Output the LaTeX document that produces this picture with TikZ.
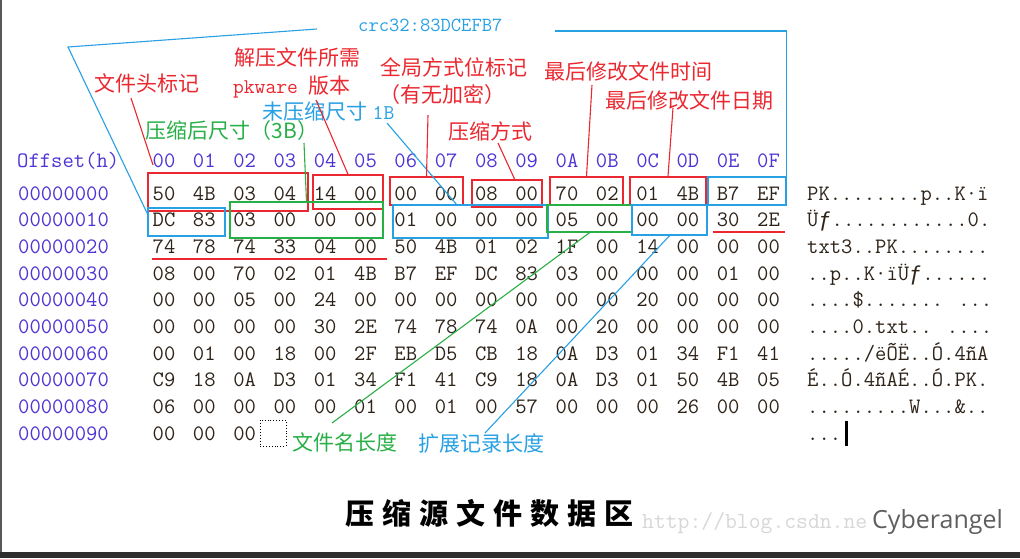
\documentclass[tikz,border=0pt]{standalone}
\usepackage{fontspec}
\usetikzlibrary{fit}
\newfontfamily\cjk{Noto Sans CJK SC}
\newfontfamily\libmono{Liberation Mono}
\newfontfamily\opensans{Open Sans}
\definecolor{myred}{RGB}{235,40,48}
\definecolor{myblue}{RGB}{40,160,228}
\definecolor{mygreen}{RGB}{40,175,70}
\definecolor{offc}{RGB}{78,52,212}
\definecolor{hexc}{RGB}{45,35,25}
\definecolor{wm}{RGB}{215,215,215}
\definecolor{cyb}{RGB}{95,95,95}
\definecolor{band}{RGB}{46,46,46}
\newcommand{\monofnt}[1]{\ttfamily\fontsize{#1}{#1}\selectfont\addfontfeature{FakeBold=1.2}}
\begin{document}
\begin{tikzpicture}[x=1pt,y=-1pt,
  lbl/.style={inner sep=0pt, font=\cjk\fontsize{21}{21}\selectfont},
  mono/.style={inner sep=0pt, font=\monofnt{22}},
  hexb/.style={mono, anchor=base, text=hexc},
  colh/.style={mono, anchor=base, text=offc},
  offl/.style={inner sep=0pt, anchor=base west, font=\monofnt{22}\addfontfeature{LetterSpace=8}, text=offc},
  ascl/.style={offl, text=hexc},
  box/.style={draw, inner sep=0pt, line width=1.4pt},
  conn/.style={line width=1.1pt},
]
\fill[white] (0,0) rectangle (1020,558);
\fill[band] (0,552) rectangle (1020,558);
\fill[band!80] (0,0) rectangle (2,552);
\useasboundingbox (0,0) rectangle (1020,558);

% header
\node[offl, font=\monofnt{22}\addfontfeature{LetterSpace=4}] (hdr) at (17,167) {Offset(h)};
\foreach \c [count=\i from 0] in {00,01,02,03,04,05,06,07,08,09,0A,0B,0C,0D,0E,0F}
  \node[colh] (c\i) at ({164+40.3*\i},167) {\c};

% offsets
\foreach \o [count=\j from 0] in {00000000,00000010,00000020,00000030,00000040,00000050,00000060,00000070,00000080,00000090}
  \node[offl] (o\j) at (18,{200+26.7*\j}) {\o};

% hex bytes
\foreach \rowlist [count=\j from 0] in {
 {50,4B,03,04,14,00,00,00,08,00,70,02,01,4B,B7,EF},
 {DC,83,03,00,00,00,01,00,00,00,05,00,00,00,30,2E},
 {74,78,74,33,04,00,50,4B,01,02,1F,00,14,00,00,00},
 {08,00,70,02,01,4B,B7,EF,DC,83,03,00,00,00,01,00},
 {00,00,05,00,24,00,00,00,00,00,00,00,20,00,00,00},
 {00,00,00,00,30,2E,74,78,74,0A,00,20,00,00,00,00},
 {00,01,00,18,00,2F,EB,D5,CB,18,0A,D3,01,34,F1,41},
 {C9,18,0A,D3,01,34,F1,41,C9,18,0A,D3,01,50,4B,05},
 {06,00,00,00,00,01,00,01,00,57,00,00,00,26,00,00},
 {00,00,00}}{
  \foreach \b [count=\i from 0] in \rowlist {
    \node[hexb] (h\j-\i) at ({164+40.3*\i},{200+26.7*\j}) {\b};
  }
}

% ascii column
\node[ascl] (a0) at (807,200) {PK........p..K·ï};
\node[ascl] (a1) at (807,226.7) {Ü{\libmono ƒ}............0.};
\node[ascl] (a2) at (807,253.4) {txt3..PK........};
\node[ascl] (a3) at (807,280.1) {..p..K·ïÜ{\libmono ƒ}......};
\node[ascl] (a4) at (807,306.8) {....\$....... ...};
\node[ascl] (a5) at (807,333.5) {....0.txt.. ....};
\node[ascl] (a6) at (807,360.2) {...../ëÕË..Ó.4ñA};
\node[ascl] (a7) at (807,386.9) {É..Ó.4ñAÉ..Ó.PK.};
\node[ascl] (a8) at (807,413.6) {.........W...\&..};
\node[ascl] (a9) at (807,440.3) {...};
\fill[black] (845,421) rectangle (848,446);

% boxes
\node[box, draw=myred,   fit={(148,173) (308,211)}] (bHead) {};
\node[box, draw=myred,   fit={(313,175) (383,209)}] (bVer) {};
\node[box, draw=myred,   fit={(390,177) (463,205)}] (bFlag) {};
\node[box, draw=myred,   fit={(472,180) (542,207)}] (bMeth) {};
\node[box, draw=myred,   fit={(550,177) (623,205)}] (bTime) {};
\node[box, draw=myred,   fit={(630,177) (706,205)}] (bDate) {};
\node[box, draw=myblue,  fit={(708,177) (786,205)}] (bCrcA) {};
\node[box, draw=myblue,  fit={(148,208) (225,236)}] (bCrcB) {};
\node[box, draw=mygreen, fit={(230,202) (383,238)}] (bCsize) {};
\node[box, draw=myblue,  fit={(393,205) (548,238)}] (bUsize) {};
\node[box, draw=mygreen, fit={(547,205) (632,232)}] (bFname) {};
\node[box, draw=myblue,  fit={(632,205) (707,235)}] (bExtra) {};
\node[draw, dotted, line width=0.9pt, inner sep=0pt, fit={(260,420) (286,446)}] (dbox) {};
\draw[myred, line width=1.3pt] (713,232) -- (785,232);
\draw[myred, line width=1.3pt] (152,259) -- (387,259);

% labels
\node[lbl, text=myred] (lHead) at (147,83) {文件头标记};
\node[lbl, text=myred] (lVer1) at (297,57) {解压文件所需};
\node[lbl, text=myred] (lVer2) at (292,87) {{\monofnt{21}pkware}\hspace{11pt}版本};
\node[lbl, text=myblue] (lUsize) at (328.5,112) {未压缩尺寸\hspace{5pt}{\monofnt{21}1B}};
\node[lbl, text=mygreen] (lCsize) at (232,131) {压缩后尺寸（3B）};
\node[lbl, text=myred] (lFlag1) at (454,67) {全局方式位标记};
\node[lbl, text=myred] (lFlag2) at (442,95) {（有无加密）};
\node[lbl, text=myred] (lMeth) at (490,131) {压缩方式};
\node[lbl, text=myred] (lTime) at (628,71) {最后修改文件时间};
\node[lbl, text=myred] (lDate) at (689,100) {最后修改文件日期};
\node[lbl, text=mygreen] (lFname) at (345,442) {文件名长度};
\node[lbl, text=myblue] (lExtra) at (481,444) {扩展记录长度};
\node[inner sep=0pt, anchor=base west, text=myblue, font=\monofnt{20}\addfontfeature{LetterSpace=5}] (crc) at (358,31) {crc32:83DCEFB7};

% connectors
\coordinate (k1) at (131,98);  \coordinate (k1e) at (153,165);
\coordinate (k2) at (316,100);
\coordinate (k3) at (387,123); \coordinate (k3e) at (457,205);
\coordinate (k4) at (304,143);
\coordinate (k5) at (428,115);
\coordinate (k6) at (498,143); \coordinate (k6e) at (515,180);
\coordinate (k7) at (592,85);
\coordinate (k8) at (673,108);
\coordinate (k9) at (332,423);
\coordinate (k10) at (485,433);
\coordinate (k11) at (555,31);
\coordinate (k12) at (317,29); \coordinate (k12b) at (68,47); \coordinate (k12e) at (148,215);

\draw[conn, myred] (k1) -- (k1e);
\draw[conn, myred] (k2) -- (bVer.north);
\draw[conn, myblue] (k3) -- (k3e);
\draw[conn, mygreen] (k4) -- (bCsize.north);
\draw[conn, myred] (k5) -- (bFlag.north);
\draw[conn, myred] (k6) -- (k6e);
\draw[conn, myred] (k7) -- (bTime.north);
\draw[conn, myred] (k8) -- (bDate.north);
\draw[conn, mygreen] (k9) -- (bFname.south);
\draw[conn, myblue] (k10) -- (bExtra.south);
\draw[conn, myblue] (k11) -| (bCrcA.north east);
\draw[conn, myblue] (k12) -- (k12b) -- (k12e);

% bottom
\node[inner sep=0pt, anchor=base west, text=wm, font=\ttfamily\fontsize{23}{23}\selectfont] (wmk) at (642,528) {http://blog.csdn.ne};
\node[inner sep=0pt, font=\cjk\bfseries\fontsize{29}{29}\selectfont\addfontfeature{LetterSpace=28}] (title) at (489.5,513) {压缩源文件数据区};
\node[inner sep=0pt, anchor=base west, text=cyb, font=\opensans\fontsize{25}{25}\selectfont] (cybn) at (872,528) {Cyberangel};
\end{tikzpicture}
\end{document}
